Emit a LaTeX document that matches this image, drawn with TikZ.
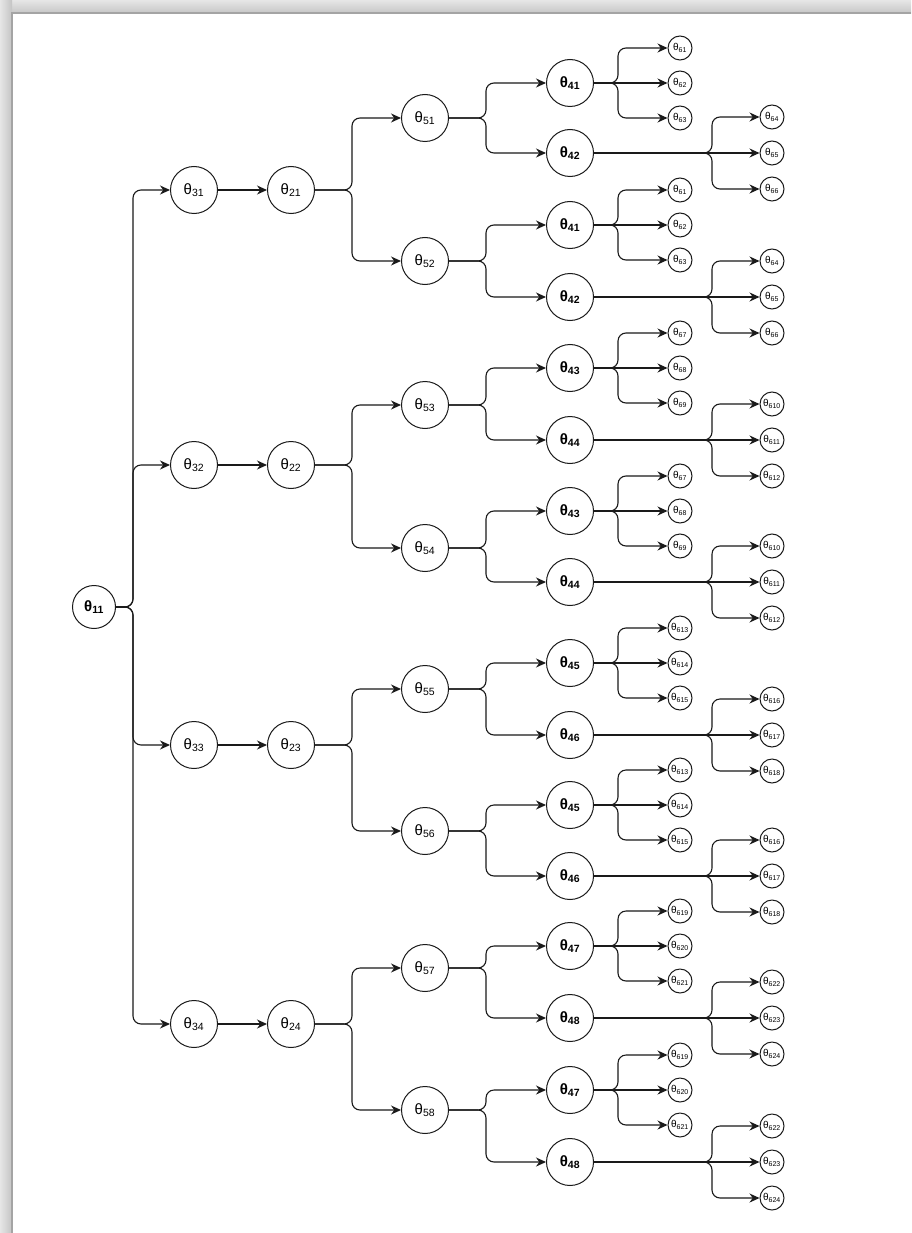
\documentclass[tikz,border=0pt]{standalone}
\usepackage{fontspec}
\setmainfont{Liberation Sans}
\usetikzlibrary{arrows.meta, positioning}
\definecolor{NodeLine}{HTML}{1A1A1A}
\definecolor{FrameLight}{HTML}{E6E6E6}
\definecolor{FrameMid}{HTML}{C4C4C4}
\definecolor{FrameDark}{HTML}{A4A4A4}
\newcommand{\thetaidx}[1]{θ\textsubscript{#1}}

\begin{document}
\begin{tikzpicture}[x=1pt, y=-1pt, node distance=49pt,
    font=\fontsize{15}{17}\selectfont,
    param/.style={circle, draw=NodeLine, line width=1pt, minimum size=47pt, inner sep=0pt},
    boldparam/.style={param, font=\fontsize{15}{17}\selectfont\bfseries},
    rootparam/.style={boldparam, minimum size=43pt},
    leaf/.style={circle, draw=NodeLine, line width=1pt, minimum size=24pt, inner sep=0pt, font=\fontsize{10}{11}\selectfont},
    link/.style={-{Stealth[length=10pt, width=9pt]}, line width=1.1pt, rounded corners=8pt, NodeLine}]
    \useasboundingbox (0,0) rectangle (911,1233);
    \fill[white] (0,0) rectangle (911,1233);
    % page frame
    \shade[top color=FrameLight, bottom color=FrameMid] (0,0) rectangle (911,14);
    \shade[left color=FrameLight, right color=FrameMid] (0,0) rectangle (12,1233);
    \draw[FrameDark, line width=1.2pt] (12,1233) -- (12,13) -- (911,13);

    % root and first two levels
    \node[rootparam] (t11) at (94,607) {\thetaidx{11}};
    \node[param] (t31) at (194,190) {\thetaidx{31}};
    \node[param] (t32) at (194,465) {\thetaidx{32}};
    \node[param] (t33) at (194,745) {\thetaidx{33}};
    \node[param] (t34) at (194,1024) {\thetaidx{34}};
    \node[param, right=of t31] (t21) {\thetaidx{21}};
    \node[param, right=of t32] (t22) {\thetaidx{22}};
    \node[param, right=of t33] (t23) {\thetaidx{23}};
    \node[param, right=of t34] (t24) {\thetaidx{24}};

    % level 5
    \node[param] (t51) at (425,118) {\thetaidx{51}};
    \node[param] (t52) at (425,261) {\thetaidx{52}};
    \node[param] (t53) at (425,405) {\thetaidx{53}};
    \node[param] (t54) at (425,548) {\thetaidx{54}};
    \node[param] (t55) at (425,689) {\thetaidx{55}};
    \node[param] (t56) at (425,831) {\thetaidx{56}};
    \node[param] (t57) at (425,968) {\thetaidx{57}};
    \node[param] (t58) at (425,1110) {\thetaidx{58}};

    % level 4
    \node[boldparam] (t41a) at (570,83) {\thetaidx{41}};
    \node[boldparam] (t42a) at (570,153) {\thetaidx{42}};
    \node[boldparam] (t41b) at (570,225) {\thetaidx{41}};
    \node[boldparam] (t42b) at (570,297) {\thetaidx{42}};
    \node[boldparam] (t43a) at (570,368) {\thetaidx{43}};
    \node[boldparam] (t44a) at (570,440) {\thetaidx{44}};
    \node[boldparam] (t43b) at (570,511) {\thetaidx{43}};
    \node[boldparam] (t44b) at (570,582) {\thetaidx{44}};
    \node[boldparam] (t45a) at (570,663) {\thetaidx{45}};
    \node[boldparam] (t46a) at (570,735) {\thetaidx{46}};
    \node[boldparam] (t45b) at (570,805) {\thetaidx{45}};
    \node[boldparam] (t46b) at (570,876) {\thetaidx{46}};
    \node[boldparam] (t47a) at (570,946) {\thetaidx{47}};
    \node[boldparam] (t48a) at (570,1018) {\thetaidx{48}};
    \node[boldparam] (t47b) at (570,1090) {\thetaidx{47}};
    \node[boldparam] (t48b) at (570,1162) {\thetaidx{48}};

    % level 6 leaves
    \node[leaf] (t61a) at (680,48) {\thetaidx{61}};
    \node[leaf] (t62a) at (680,83) {\thetaidx{62}};
    \node[leaf] (t63a) at (680,118) {\thetaidx{63}};
    \node[leaf] (t64a) at (772,117) {\thetaidx{64}};
    \node[leaf] (t65a) at (772,153) {\thetaidx{65}};
    \node[leaf] (t66a) at (772,189) {\thetaidx{66}};
    \node[leaf] (t61b) at (680,190) {\thetaidx{61}};
    \node[leaf] (t62b) at (680,225) {\thetaidx{62}};
    \node[leaf] (t63b) at (680,260) {\thetaidx{63}};
    \node[leaf] (t64b) at (772,261) {\thetaidx{64}};
    \node[leaf] (t65b) at (772,297) {\thetaidx{65}};
    \node[leaf] (t66b) at (772,333) {\thetaidx{66}};
    \node[leaf] (t67a) at (680,333) {\thetaidx{67}};
    \node[leaf] (t68a) at (680,368) {\thetaidx{68}};
    \node[leaf] (t69a) at (680,403) {\thetaidx{69}};
    \node[leaf] (t610a) at (772,404) {\thetaidx{610}};
    \node[leaf] (t611a) at (772,440) {\thetaidx{611}};
    \node[leaf] (t612a) at (772,476) {\thetaidx{612}};
    \node[leaf] (t67b) at (680,476) {\thetaidx{67}};
    \node[leaf] (t68b) at (680,511) {\thetaidx{68}};
    \node[leaf] (t69b) at (680,546) {\thetaidx{69}};
    \node[leaf] (t610b) at (772,546) {\thetaidx{610}};
    \node[leaf] (t611b) at (772,582) {\thetaidx{611}};
    \node[leaf] (t612b) at (772,618) {\thetaidx{612}};
    \node[leaf] (t613a) at (680,628) {\thetaidx{613}};
    \node[leaf] (t614a) at (680,663) {\thetaidx{614}};
    \node[leaf] (t615a) at (680,698) {\thetaidx{615}};
    \node[leaf] (t616a) at (772,699) {\thetaidx{616}};
    \node[leaf] (t617a) at (772,735) {\thetaidx{617}};
    \node[leaf] (t618a) at (772,771) {\thetaidx{618}};
    \node[leaf] (t613b) at (680,770) {\thetaidx{613}};
    \node[leaf] (t614b) at (680,805) {\thetaidx{614}};
    \node[leaf] (t615b) at (680,840) {\thetaidx{615}};
    \node[leaf] (t616b) at (772,840) {\thetaidx{616}};
    \node[leaf] (t617b) at (772,876) {\thetaidx{617}};
    \node[leaf] (t618b) at (772,912) {\thetaidx{618}};
    \node[leaf] (t619a) at (680,911) {\thetaidx{619}};
    \node[leaf] (t620a) at (680,946) {\thetaidx{620}};
    \node[leaf] (t621a) at (680,981) {\thetaidx{621}};
    \node[leaf] (t622a) at (772,982) {\thetaidx{622}};
    \node[leaf] (t623a) at (772,1018) {\thetaidx{623}};
    \node[leaf] (t624a) at (772,1054) {\thetaidx{624}};
    \node[leaf] (t619b) at (680,1055) {\thetaidx{619}};
    \node[leaf] (t620b) at (680,1090) {\thetaidx{620}};
    \node[leaf] (t621b) at (680,1125) {\thetaidx{621}};
    \node[leaf] (t622b) at (772,1126) {\thetaidx{622}};
    \node[leaf] (t623b) at (772,1162) {\thetaidx{623}};
    \node[leaf] (t624b) at (772,1198) {\thetaidx{624}};

    % root to level 3, level 3 to level 2
    \draw[link] (t11.east) -- ++(17,0) |- (t31.west);
    \draw[link] (t11.east) -- ++(17,0) |- (t32.west);
    \draw[link] (t11.east) -- ++(17,0) |- (t33.west);
    \draw[link] (t11.east) -- ++(17,0) |- (t34.west);
    \draw[link] (t31) -- (t21);
    \draw[link] (t32) -- (t22);
    \draw[link] (t33) -- (t23);
    \draw[link] (t34) -- (t24);

    % level 2 to level 5
    \draw[link] (t21.east) -- ++(37,0) |- (t51.west);
    \draw[link] (t21.east) -- ++(37,0) |- (t52.west);
    \draw[link] (t22.east) -- ++(37,0) |- (t53.west);
    \draw[link] (t22.east) -- ++(37,0) |- (t54.west);
    \draw[link] (t23.east) -- ++(37,0) |- (t55.west);
    \draw[link] (t23.east) -- ++(37,0) |- (t56.west);
    \draw[link] (t24.east) -- ++(37,0) |- (t57.west);
    \draw[link] (t24.east) -- ++(37,0) |- (t58.west);

    % level 5 to level 4
    \draw[link] (t51.east) -- ++(37,0) |- (t41a.west);
    \draw[link] (t51.east) -- ++(37,0) |- (t42a.west);
    \draw[link] (t52.east) -- ++(37,0) |- (t41b.west);
    \draw[link] (t52.east) -- ++(37,0) |- (t42b.west);
    \draw[link] (t53.east) -- ++(37,0) |- (t43a.west);
    \draw[link] (t53.east) -- ++(37,0) |- (t44a.west);
    \draw[link] (t54.east) -- ++(37,0) |- (t43b.west);
    \draw[link] (t54.east) -- ++(37,0) |- (t44b.west);
    \draw[link] (t55.east) -- ++(37,0) |- (t45a.west);
    \draw[link] (t55.east) -- ++(37,0) |- (t46a.west);
    \draw[link] (t56.east) -- ++(37,0) |- (t45b.west);
    \draw[link] (t56.east) -- ++(37,0) |- (t46b.west);
    \draw[link] (t57.east) -- ++(37,0) |- (t47a.west);
    \draw[link] (t57.east) -- ++(37,0) |- (t48a.west);
    \draw[link] (t58.east) -- ++(37,0) |- (t47b.west);
    \draw[link] (t58.east) -- ++(37,0) |- (t48b.west);

    % level 4 to leaves
    \draw[link] (t41a.east) -- ++(24,0) |- (t61a.west);
    \draw[link] (t41a) -- (t62a);
    \draw[link] (t41a.east) -- ++(24,0) |- (t63a.west);
    \draw[link] (t42a.east) -- ++(118,0) |- (t64a.west);
    \draw[link] (t42a) -- (t65a);
    \draw[link] (t42a.east) -- ++(118,0) |- (t66a.west);
    \draw[link] (t41b.east) -- ++(24,0) |- (t61b.west);
    \draw[link] (t41b) -- (t62b);
    \draw[link] (t41b.east) -- ++(24,0) |- (t63b.west);
    \draw[link] (t42b.east) -- ++(118,0) |- (t64b.west);
    \draw[link] (t42b) -- (t65b);
    \draw[link] (t42b.east) -- ++(118,0) |- (t66b.west);
    \draw[link] (t43a.east) -- ++(24,0) |- (t67a.west);
    \draw[link] (t43a) -- (t68a);
    \draw[link] (t43a.east) -- ++(24,0) |- (t69a.west);
    \draw[link] (t44a.east) -- ++(118,0) |- (t610a.west);
    \draw[link] (t44a) -- (t611a);
    \draw[link] (t44a.east) -- ++(118,0) |- (t612a.west);
    \draw[link] (t43b.east) -- ++(24,0) |- (t67b.west);
    \draw[link] (t43b) -- (t68b);
    \draw[link] (t43b.east) -- ++(24,0) |- (t69b.west);
    \draw[link] (t44b.east) -- ++(118,0) |- (t610b.west);
    \draw[link] (t44b) -- (t611b);
    \draw[link] (t44b.east) -- ++(118,0) |- (t612b.west);
    \draw[link] (t45a.east) -- ++(24,0) |- (t613a.west);
    \draw[link] (t45a) -- (t614a);
    \draw[link] (t45a.east) -- ++(24,0) |- (t615a.west);
    \draw[link] (t46a.east) -- ++(118,0) |- (t616a.west);
    \draw[link] (t46a) -- (t617a);
    \draw[link] (t46a.east) -- ++(118,0) |- (t618a.west);
    \draw[link] (t45b.east) -- ++(24,0) |- (t613b.west);
    \draw[link] (t45b) -- (t614b);
    \draw[link] (t45b.east) -- ++(24,0) |- (t615b.west);
    \draw[link] (t46b.east) -- ++(118,0) |- (t616b.west);
    \draw[link] (t46b) -- (t617b);
    \draw[link] (t46b.east) -- ++(118,0) |- (t618b.west);
    \draw[link] (t47a.east) -- ++(24,0) |- (t619a.west);
    \draw[link] (t47a) -- (t620a);
    \draw[link] (t47a.east) -- ++(24,0) |- (t621a.west);
    \draw[link] (t48a.east) -- ++(118,0) |- (t622a.west);
    \draw[link] (t48a) -- (t623a);
    \draw[link] (t48a.east) -- ++(118,0) |- (t624a.west);
    \draw[link] (t47b.east) -- ++(24,0) |- (t619b.west);
    \draw[link] (t47b) -- (t620b);
    \draw[link] (t47b.east) -- ++(24,0) |- (t621b.west);
    \draw[link] (t48b.east) -- ++(118,0) |- (t622b.west);
    \draw[link] (t48b) -- (t623b);
    \draw[link] (t48b.east) -- ++(118,0) |- (t624b.west);
\end{tikzpicture}
\end{document}
